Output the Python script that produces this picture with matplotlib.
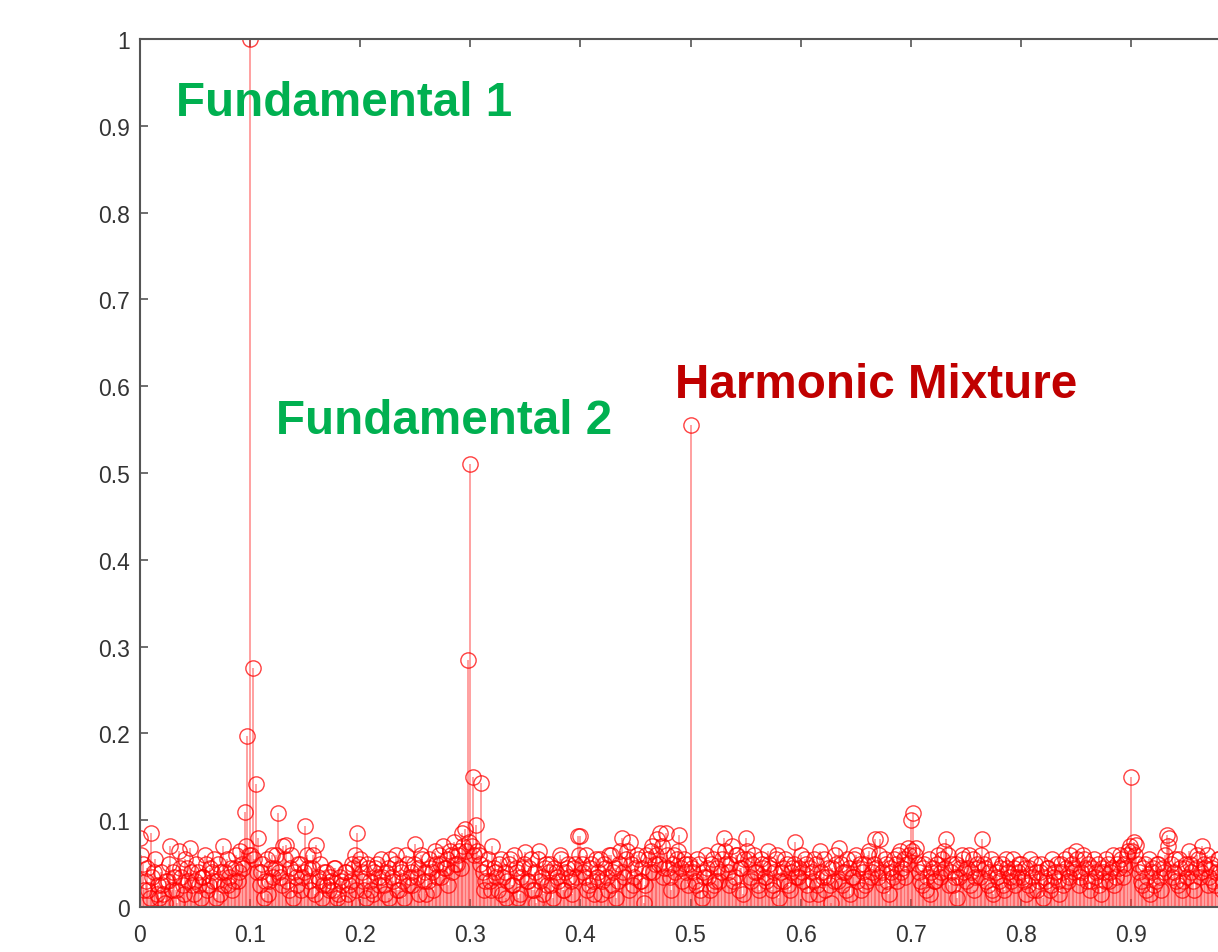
import numpy as np
import matplotlib
matplotlib.use("Agg")
import matplotlib.pyplot as plt
from matplotlib.ticker import FormatStrFormatter, FixedLocator, MultipleLocator

# normalized spectrum magnitude, sampled every 0.0025 from 0 to 0.9975
step = 0.0025
mag_00 = [0.080, 0.050, 0.030, 0.020, 0.085, 0.040, 0.015, 0.010, 0.025, 0.005,
          0.030, 0.070, 0.040, 0.020, 0.065, 0.035, 0.015, 0.045, 0.068, 0.025,
          0.030, 0.040, 0.010, 0.035, 0.050, 0.025, 0.040, 0.055, 0.030, 0.015,
          0.070, 0.040, 0.025, 0.045, 0.030, 0.060, 0.040, 0.050, 0.110, 0.197]
mag_01 = [1.000, 0.275, 0.142, 0.080, 0.040, 0.010, 0.055, 0.030, 0.060, 0.045,
          0.108, 0.035, 0.070, 0.072, 0.020, 0.060, 0.040, 0.025, 0.050, 0.035,
          0.093, 0.045, 0.020, 0.060, 0.072, 0.030, 0.010, 0.040, 0.025, 0.035,
          0.020, 0.045, 0.015, 0.030, 0.005, 0.040, 0.025, 0.050, 0.060, 0.085]
mag_02 = [0.055, 0.030, 0.010, 0.045, 0.020, 0.040, 0.050, 0.025, 0.035, 0.015,
          0.045, 0.055, 0.030, 0.060, 0.020, 0.040, 0.010, 0.050, 0.035, 0.025,
          0.073, 0.045, 0.060, 0.030, 0.015, 0.055, 0.040, 0.065, 0.035, 0.050,
          0.070, 0.045, 0.025, 0.060, 0.075, 0.050, 0.065, 0.085, 0.090, 0.285]
mag_03 = [0.510, 0.150, 0.095, 0.060, 0.143, 0.020, 0.045, 0.030, 0.070, 0.040,
          0.020, 0.055, 0.035, 0.010, 0.050, 0.025, 0.060, 0.040, 0.015, 0.045,
          0.063, 0.030, 0.055, 0.020, 0.005, 0.065, 0.035, 0.045, 0.025, 0.050,
          0.010, 0.040, 0.030, 0.055, 0.020, 0.045, 0.035, 0.015, 0.050, 0.082]
mag_04 = [0.082, 0.040, 0.060, 0.025, 0.050, 0.015, 0.035, 0.055, 0.030, 0.045,
          0.020, 0.060, 0.040, 0.010, 0.050, 0.080, 0.035, 0.065, 0.075, 0.025,
          0.045, 0.055, 0.030, 0.005, 0.060, 0.040, 0.070, 0.050, 0.078, 0.085,
          0.035, 0.085, 0.045, 0.020, 0.060, 0.055, 0.083, 0.030, 0.050, 0.025]
mag_05 = [0.555, 0.040, 0.025, 0.050, 0.010, 0.035, 0.045, 0.020, 0.055, 0.030,
          0.065, 0.040, 0.080, 0.050, 0.025, 0.070, 0.035, 0.060, 0.045, 0.015,
          0.080, 0.055, 0.030, 0.060, 0.040, 0.020, 0.050, 0.035, 0.065, 0.045,
          0.025, 0.055, 0.010, 0.040, 0.030, 0.050, 0.020, 0.045, 0.075, 0.035]
mag_06 = [0.060, 0.030, 0.050, 0.015, 0.040, 0.055, 0.025, 0.065, 0.035, 0.020,
          0.045, 0.005, 0.030, 0.050, 0.068, 0.025, 0.040, 0.055, 0.015, 0.035,
          0.060, 0.045, 0.020, 0.050, 0.030, 0.065, 0.040, 0.078, 0.035, 0.078,
          0.025, 0.050, 0.015, 0.040, 0.055, 0.030, 0.065, 0.045, 0.035, 0.068]
mag_07 = [0.100, 0.108, 0.068, 0.040, 0.025, 0.050, 0.035, 0.015, 0.045, 0.030,
          0.060, 0.040, 0.065, 0.078, 0.025, 0.050, 0.035, 0.010, 0.045, 0.055,
          0.030, 0.060, 0.040, 0.020, 0.050, 0.035, 0.078, 0.045, 0.025, 0.055,
          0.015, 0.040, 0.030, 0.050, 0.020, 0.045, 0.035, 0.055, 0.025, 0.040]
mag_08 = [0.050, 0.030, 0.015, 0.045, 0.035, 0.050, 0.020, 0.040, 0.010, 0.030,
          0.045, 0.025, 0.035, 0.050, 0.015, 0.040, 0.055, 0.030, 0.060, 0.045,
          0.065, 0.025, 0.040, 0.055, 0.030, 0.020, 0.045, 0.035, 0.050, 0.015,
          0.040, 0.055, 0.030, 0.045, 0.025, 0.050, 0.060, 0.035, 0.045, 0.065]
mag_09 = [0.150, 0.075, 0.072, 0.040, 0.025, 0.050, 0.035, 0.015, 0.045, 0.030,
          0.050, 0.020, 0.040, 0.083, 0.080, 0.035, 0.055, 0.025, 0.045, 0.030,
          0.050, 0.065, 0.040, 0.020, 0.060, 0.035, 0.070, 0.045, 0.025, 0.050,
          0.030, 0.040, 0.055, 0.020, 0.045, 0.035, 0.050, 0.030, 0.040, 0.025]

# in-between bins (offset by half a step)
half_00 = [0.060, 0.020, 0.045, 0.010, 0.035, 0.055, 0.025, 0.040, 0.015, 0.030,
           0.050, 0.020, 0.035, 0.005, 0.045, 0.025, 0.055, 0.030, 0.040, 0.015,
           0.050, 0.025, 0.035, 0.060, 0.020, 0.045, 0.030, 0.010, 0.050, 0.040,
           0.025, 0.055, 0.035, 0.020, 0.045, 0.030, 0.065, 0.045, 0.070, 0.060]
half_01 = [0.060, 0.055, 0.040, 0.025, 0.050, 0.030, 0.015, 0.045, 0.035, 0.060,
           0.040, 0.025, 0.055, 0.030, 0.045, 0.010, 0.035, 0.050, 0.020, 0.040,
           0.060, 0.030, 0.045, 0.015, 0.035, 0.050, 0.025, 0.040, 0.020, 0.030,
           0.045, 0.010, 0.035, 0.025, 0.040, 0.015, 0.030, 0.045, 0.020, 0.050]
half_02 = [0.040, 0.020, 0.050, 0.030, 0.015, 0.045, 0.035, 0.055, 0.025, 0.040,
           0.010, 0.035, 0.050, 0.020, 0.045, 0.030, 0.060, 0.025, 0.040, 0.050,
           0.035, 0.015, 0.055, 0.040, 0.030, 0.045, 0.020, 0.050, 0.060, 0.035,
           0.045, 0.055, 0.065, 0.040, 0.050, 0.060, 0.045, 0.070, 0.065, 0.075]
half_03 = [0.070, 0.060, 0.065, 0.050, 0.040, 0.030, 0.055, 0.020, 0.045, 0.035,
           0.050, 0.015, 0.040, 0.030, 0.055, 0.025, 0.045, 0.010, 0.035, 0.050,
           0.030, 0.045, 0.020, 0.040, 0.055, 0.030, 0.015, 0.050, 0.040, 0.025,
           0.045, 0.035, 0.060, 0.020, 0.040, 0.050, 0.030, 0.045, 0.035, 0.060]
half_04 = [0.050, 0.035, 0.020, 0.045, 0.030, 0.055, 0.040, 0.015, 0.050, 0.035,
           0.060, 0.025, 0.045, 0.030, 0.065, 0.040, 0.055, 0.020, 0.050, 0.035,
           0.060, 0.030, 0.045, 0.025, 0.055, 0.065, 0.040, 0.060, 0.050, 0.070,
           0.045, 0.060, 0.035, 0.050, 0.040, 0.065, 0.045, 0.055, 0.040, 0.050]
half_05 = [0.045, 0.030, 0.055, 0.020, 0.040, 0.060, 0.035, 0.050, 0.025, 0.045,
           0.030, 0.055, 0.065, 0.040, 0.050, 0.030, 0.060, 0.020, 0.045, 0.055,
           0.065, 0.035, 0.050, 0.040, 0.025, 0.055, 0.045, 0.030, 0.050, 0.020,
           0.040, 0.060, 0.030, 0.045, 0.055, 0.025, 0.040, 0.050, 0.035, 0.045]
half_06 = [0.040, 0.055, 0.025, 0.045, 0.030, 0.050, 0.015, 0.040, 0.055, 0.035,
           0.025, 0.045, 0.060, 0.030, 0.050, 0.040, 0.020, 0.045, 0.035, 0.055,
           0.030, 0.050, 0.040, 0.025, 0.060, 0.035, 0.050, 0.045, 0.060, 0.040,
           0.055, 0.030, 0.045, 0.035, 0.050, 0.060, 0.040, 0.055, 0.050, 0.060]
half_07 = [0.065, 0.060, 0.050, 0.030, 0.045, 0.020, 0.055, 0.040, 0.030, 0.050,
           0.035, 0.055, 0.045, 0.060, 0.040, 0.025, 0.050, 0.035, 0.060, 0.040,
           0.045, 0.025, 0.055, 0.035, 0.045, 0.060, 0.050, 0.030, 0.040, 0.020,
           0.050, 0.035, 0.045, 0.025, 0.055, 0.040, 0.030, 0.045, 0.035, 0.050]
half_08 = [0.035, 0.045, 0.025, 0.055, 0.020, 0.040, 0.030, 0.050, 0.035, 0.045,
           0.020, 0.055, 0.040, 0.030, 0.050, 0.025, 0.045, 0.035, 0.050, 0.040,
           0.055, 0.035, 0.060, 0.045, 0.050, 0.030, 0.055, 0.040, 0.025, 0.045,
           0.030, 0.050, 0.040, 0.060, 0.035, 0.045, 0.055, 0.050, 0.060, 0.070]
half_09 = [0.065, 0.060, 0.050, 0.030, 0.045, 0.020, 0.055, 0.040, 0.025, 0.050,
           0.035, 0.045, 0.060, 0.070, 0.050, 0.040, 0.030, 0.055, 0.020, 0.045,
           0.035, 0.050, 0.030, 0.045, 0.055, 0.040, 0.050, 0.060, 0.035, 0.045,
           0.025, 0.055, 0.040, 0.030, 0.050, 0.045, 0.020, 0.040, 0.055, 0.035]

mag_main = np.array(mag_00 + mag_01 + mag_02 + mag_03 + mag_04 +
                    mag_05 + mag_06 + mag_07 + mag_08 + mag_09)
mag_half = np.array(half_00 + half_01 + half_02 + half_03 + half_04 +
                    half_05 + half_06 + half_07 + half_08 + half_09)
freq_main = np.arange(len(mag_main)) * step
freq_half = (np.arange(len(mag_half)) + 0.5) * step
freq = np.concatenate([freq_main, freq_half])
magnitude = np.concatenate([mag_main, mag_half])
order = np.argsort(freq)
freq, magnitude = freq[order], magnitude[order]

labels = ["Fundamental 1", "Fundamental 2", "Harmonic Mixture"]
label_x = [0.0325, 0.1235, 0.486]
label_y = [0.927, 0.560, 0.6025]
label_colors = ["#00b050", "#00b050", "#c00000"]
xtick_vals = [0, 0.1, 0.2, 0.3, 0.4, 0.5, 0.6, 0.7, 0.8, 0.9]

fig = plt.figure(figsize=(12.18, 9.53), dpi=100)
ax = fig.add_axes([140 / 1218, 45 / 953, 1101 / 1218, 868 / 953])

ml, sl, bl = ax.stem(freq, magnitude, linefmt="-", markerfmt="o", basefmt=" ")
plt.setp(sl, color=(1, 0.2, 0.2, 0.5), linewidth=1.3)
plt.setp(ml, markerfacecolor="none", markeredgecolor=(1, 0.0, 0.0, 0.75),
         markersize=11, markeredgewidth=1.0)

for t, x, y, c in zip(labels, label_x, label_y, label_colors):
    ax.text(x, y, t, color=c, fontsize=34.3, fontweight="bold",
            family="Liberation Sans", ha="left", va="center")

ax.set_xlim(0, 1)
ax.set_ylim(0, 1)
ax.xaxis.set_major_locator(FixedLocator(xtick_vals + [1.0]))
ax.yaxis.set_major_locator(MultipleLocator(0.1))
ax.xaxis.set_major_formatter(FormatStrFormatter("%g"))
ax.yaxis.set_major_formatter(FormatStrFormatter("%g"))
ax.tick_params(direction="in", length=6, width=1.2, color="#555555",
               top=True, right=True, labelsize=16.5, labelcolor="#333333")
ax.tick_params(axis="x", pad=11.5)
ax.tick_params(axis="y", pad=7.5)
for lab in ax.get_xticklabels() + ax.get_yticklabels():
    lab.set_family("Liberation Sans")
ax.get_xticklabels()[-1].set_visible(False)
for s in ax.spines.values():
    s.set_color("#555555")
    s.set_linewidth(1.5)

fig.savefig("out.png", dpi=100)
